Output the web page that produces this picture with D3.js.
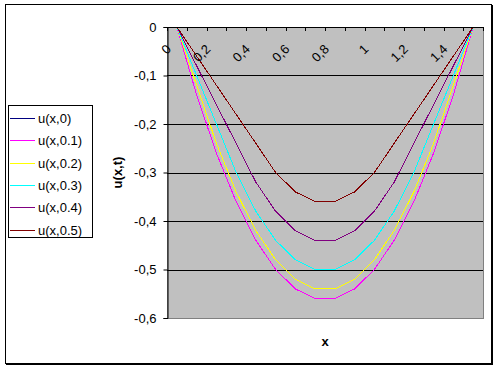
<!DOCTYPE html>
<html lang="en">
<head>
    <meta charset="UTF-8">
    <title>u(x,t)</title>
    <script src="https://cdnjs.cloudflare.com/ajax/libs/d3/7.8.5/d3.min.js"></script>
    <style>
        body { margin: 0; background: #ffffff; }
        text { font-family: "Liberation Sans", Arial, sans-serif; }
    </style>
</head>
<body>
    <script>
        // Categories on the x axis (0 .. 1.5 step 0.1)
        var xCats = ["0","0,1","0,2","0,3","0,4","0,5","0,6","0,7","0,8","0,9","1","1,1","1,2","1,3","1,4","1,5"];
        // only every second category gets a label
        var xLabels = ["0","0,2","0,4","0,6","0,8","1","1,2","1,4"];
        var yTicks = [0, -0.1, -0.2, -0.3, -0.4, -0.5, -0.6];
        var yTickLabels = ["0","-0,1","-0,2","-0,3","-0,4","-0,5","-0,6"];

        // series values, one per category
        var names = ["u(x,0)","u(x,0.1)","u(x,0.2)","u(x,0.3)","u(x,0.4)","u(x,0.5)"];
        var colors = ["#000080","#ff00ff","#ffff00","#00ffff","#800080","#800000"];
        var u0  = [0,-0.14,-0.26,-0.36,-0.44,-0.50,-0.54,-0.56,-0.56,-0.54,-0.50,-0.44,-0.36,-0.26,-0.14,0];
        var u01 = [0,-0.14,-0.26,-0.36,-0.44,-0.50,-0.54,-0.56,-0.56,-0.54,-0.50,-0.44,-0.36,-0.26,-0.14,0];
        var u02 = [0,-0.12,-0.24,-0.34,-0.42,-0.48,-0.52,-0.54,-0.54,-0.52,-0.48,-0.42,-0.34,-0.24,-0.12,0];
        var u03 = [0,-0.10,-0.20,-0.30,-0.38,-0.44,-0.48,-0.50,-0.50,-0.48,-0.44,-0.38,-0.30,-0.20,-0.10,0];
        var u04 = [0,-0.08,-0.16,-0.24,-0.32,-0.38,-0.42,-0.44,-0.44,-0.42,-0.38,-0.32,-0.24,-0.16,-0.08,0];
        var u05 = [0,-0.06,-0.12,-0.18,-0.24,-0.30,-0.34,-0.36,-0.36,-0.34,-0.30,-0.24,-0.18,-0.12,-0.06,0];
        var series = [u0, u01, u02, u03, u04, u05];

        var W = 499, H = 370;
        // plot area edges (avoid the name "top", it is window.top)
        var pL = 167, pR = 483, pT = 27, pB = 318;

        var svg = d3.select("body")
            .append("svg")
            .attr("width", W)
            .attr("height", H);

        // chart frame with a small shadow on the right / bottom
        svg.append("rect").attr("x", 6).attr("y", 5).attr("width", 487).attr("height", 360).attr("fill", "#000");
        svg.append("rect").attr("x", 5.5).attr("y", 4.5).attr("width", 486).attr("height", 359)
            .attr("fill", "#fff").attr("stroke", "#000").attr("stroke-width", 1);

        var xBand = d3.scaleBand().domain(xCats).range([pL, pR]);
        var xScale = function(c){ return xBand(c) + xBand.bandwidth() / 2; };
        var yScale = d3.scaleLinear().domain([-0.6, 0]).range([pB, pT]);

        // plot area
        svg.append("rect")
            .attr("x", pL + 0.5).attr("y", pT + 0.5)
            .attr("width", pR - pL).attr("height", pB - pT)
            .attr("fill", "#c0c0c0")
            .attr("stroke", "#808080").attr("stroke-width", 1);

        // horizontal grid lines
        svg.append("g")
            .selectAll("line")
            .data(yTicks.slice(1, 6))
            .enter()
            .append("line")
            .attr("x1", pL).attr("x2", pR)
            .attr("y1", function(d){ return Math.round(yScale(d)) + 0.5; })
            .attr("y2", function(d){ return Math.round(yScale(d)) + 0.5; })
            .attr("stroke", "#000")
            .attr("stroke-width", 1);

        // series lines (aliased like the original)
        var line = d3.line()
            .x(function(d, i){ return xScale(xCats[i]); })
            .y(function(d){ return yScale(d); });
        svg.append("g")
            .selectAll("path")
            .data(series)
            .enter()
            .append("path")
            .attr("d", line)
            .attr("fill", "none")
            .attr("stroke", function(d, i){ return colors[i]; })
            .attr("stroke-width", 1)
            .attr("shape-rendering", "crispEdges");

        // y axis (left)
        var yAxis = d3.axisLeft(yScale)
            .tickValues(yTicks)
            .tickSize(4)
            .tickPadding(7)
            .tickFormat(function(d, i){ return yTickLabels[i]; });
        var gy = svg.append("g")
            .attr("transform", "translate(" + (pL + 0.5) + ",0)")
            .call(yAxis);
        gy.select(".domain").attr("stroke", "#000");
        gy.selectAll("text")
            .attr("font-size", 13)
            .attr("font-family", "Liberation Sans, Arial, sans-serif")
            .attr("fill", "#000");

        // x axis along value 0 (top), category ticks between categories
        var gx = svg.append("g");
        gx.append("line")
            .attr("x1", pL).attr("x2", pR)
            .attr("y1", pT + 0.5).attr("y2", pT + 0.5)
            .attr("stroke", "#000");
        var edges = d3.range(xCats.length + 1).map(function(j){ return pL + j * xBand.bandwidth(); });
        gx.selectAll("line.tick")
            .data(edges)
            .enter()
            .append("line")
            .attr("class", "tick")
            .attr("x1", function(d){ return Math.round(d) + 0.5; })
            .attr("x2", function(d){ return Math.round(d) + 0.5; })
            .attr("y1", pT).attr("y2", pT + 4)
            .attr("stroke", "#000");
        gx.selectAll("text")
            .data(xLabels)
            .enter()
            .append("text")
            .attr("transform", function(d){
                return "translate(" + (xScale(d) - 5) + "," + (pT + 23) + ") rotate(-45)";
            })
            .attr("text-anchor", "end")
            .attr("font-size", 13)
            .attr("fill", "#000")
            .text(function(d){ return d; });

        // axis titles
        svg.append("text")
            .attr("transform", "translate(122," + ((pT + pB) / 2) + ") rotate(-90)")
            .attr("text-anchor", "middle")
            .attr("font-size", 13)
            .attr("font-weight", "bold")
            .text("u(x,t)");
        svg.append("text")
            .attr("x", (pL + pR) / 2)
            .attr("y", 346)
            .attr("text-anchor", "middle")
            .attr("font-size", 13)
            .attr("font-weight", "bold")
            .text("x");

        // legend
        var leg = svg.append("g");
        leg.append("rect")
            .attr("x", 8.5).attr("y", 105.5)
            .attr("width", 84).attr("height", 132)
            .attr("fill", "#fff").attr("stroke", "#000");
        var items = leg.selectAll("g.item")
            .data(names)
            .enter()
            .append("g")
            .attr("class", "item")
            .attr("transform", function(d, i){ return "translate(0," + Math.round(118 + i * 22.3) + ")"; });
        items.append("line")
            .attr("x1", 10).attr("x2", 35)
            .attr("y1", 0.5).attr("y2", 0.5)
            .attr("stroke", function(d, i){ return colors[i]; })
            .attr("stroke-width", 1)
            .attr("shape-rendering", "crispEdges");
        items.append("text")
            .attr("x", 38).attr("y", 5)
            .attr("font-size", 13)
            .attr("fill", "#000")
            .text(function(d){ return d; });
    </script>
</body>
</html>
